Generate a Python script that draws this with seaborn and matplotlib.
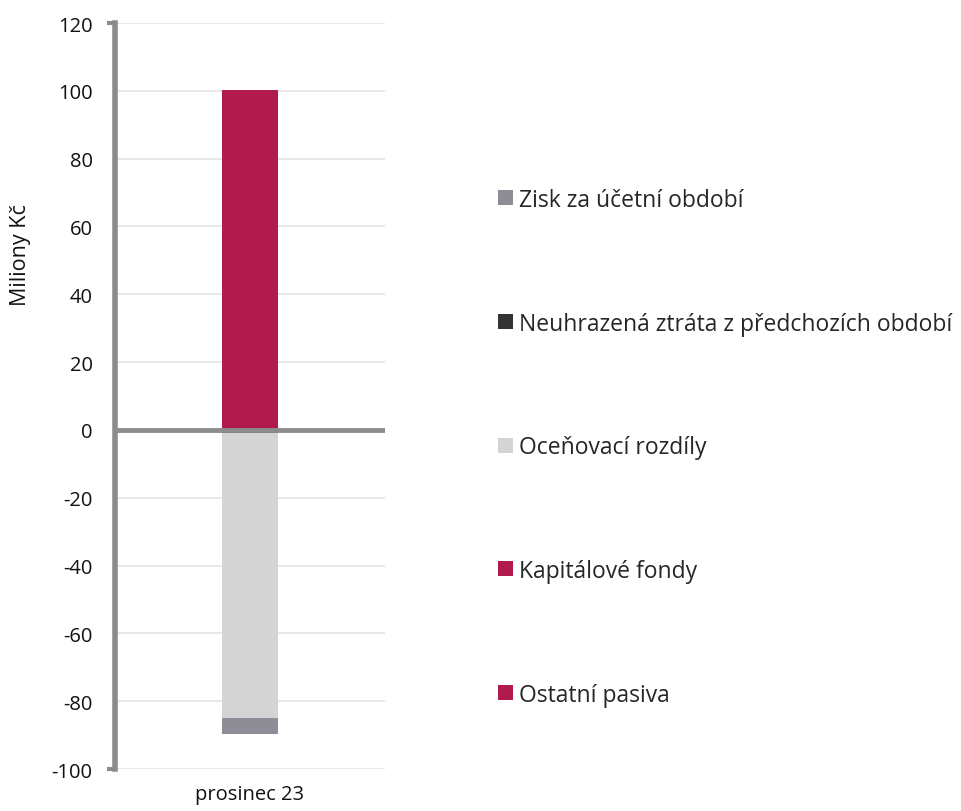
import pandas as pd
import numpy as np
import matplotlib
matplotlib.use("Agg")
import matplotlib.pyplot as plt
import seaborn as sns
from matplotlib.patches import Patch

# data (Milions CZK)
period = ["prosinec 23"]
series = ["Ostatní pasiva", "Kapitálové fondy", "Oceňovací rozdíly",
          "Neuhrazená ztráta z předchozích období", "Zisk za účetní období"]
values = [-0.9, 100.3, -84.1, 0.0, -4.6]
colors = ["#b01a4c", "#b01a4c", "#d4d4d4", "#333333", "#8e8d96"]
yticks = list(range(-100, 121, 20))

sns.set_theme(style="white")
plt.rcParams["font.family"] = ["Open Sans", "DejaVu Sans"]

fig = plt.figure(figsize=(9.62, 8.12), dpi=100)
ax = fig.add_axes([0.1195, 0.0517, 0.2807, 0.9187])

# stacked bars: positives stack up from 0, negatives stack down from 0
pos_base = 0.0
neg_base = 0.0
for name, val, col in zip(series, values, colors):
    if val >= 0:
        base = pos_base
        pos_base += val
    else:
        base = neg_base
        neg_base += val
    df = pd.DataFrame({"period": period, "val": [val]})
    sns.barplot(data=df, x="period", y="val", bottom=base, color=col,
                width=0.204, saturation=1, ax=ax, linewidth=0, zorder=3)

ax.set_xlim(-0.5, 0.5)
ax.set_ylim(-100, 120)
ax.set_yticks(yticks)
ax.set_yticklabels([str(t) for t in yticks], fontsize=14.5, color="#111111")
ax.tick_params(axis="x", labelsize=14.5, length=0, pad=11, labelcolor="#111111")
ax.tick_params(axis="y", length=0, pad=16)
ax.set_xlabel("")
ax.set_ylabel("Miliony Kč", fontsize=15.5, color="#111111")
ax.yaxis.set_label_coords(-0.31, 0.69)

ax.grid(axis="y", color="#e0e0e0", linewidth=1.1, zorder=0)
ax.axhline(0, color="#8c8c8c", linewidth=3.5, zorder=4)

for s in ["top", "right", "bottom"]:
    ax.spines[s].set_visible(False)
ax.spines["left"].set_color("#8c8c8c")
ax.spines["left"].set_linewidth(4)

# small caps at both ends of the y spine
for yv in (120, -100):
    ax.plot([-0.53, -0.5], [yv, yv], color="#8c8c8c", lw=3,
            clip_on=False, solid_capstyle="butt", zorder=5)

handles = [Patch(facecolor=colors[i], edgecolor="none", label=series[i])
           for i in [4, 3, 2, 1, 0]]
fig.legend(handles=handles, loc="center left", bbox_to_anchor=(0.518, 0.448),
           frameon=False, fontsize=16.5, handlelength=0.62, handleheight=0.62,
           handletextpad=0.3, labelspacing=4.35, borderpad=0, borderaxespad=0)

fig.savefig("out.png", dpi=100)
